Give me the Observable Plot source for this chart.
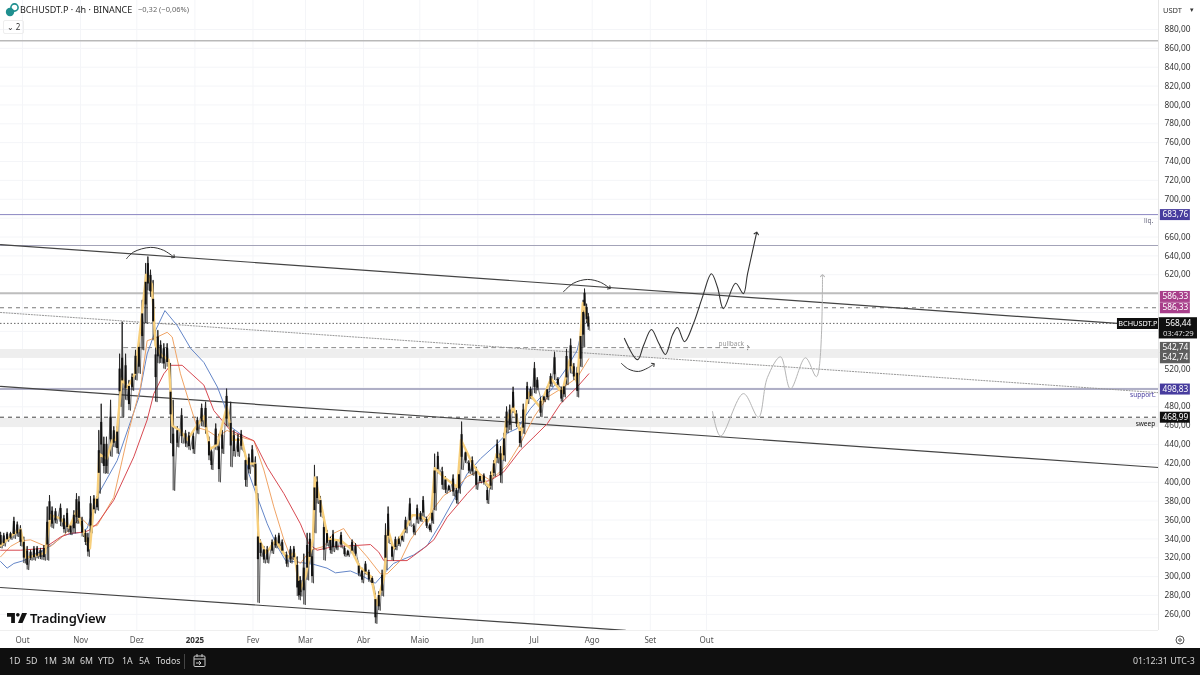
<!DOCTYPE html>
<html>
<head>
<meta charset="utf-8">
<script src="https://cdn.jsdelivr.net/npm/d3@7"></script>
<script src="https://cdn.jsdelivr.net/npm/@observablehq/plot@0.6"></script>
<style>
html,body{margin:0;padding:0;background:#fff;width:1200px;height:675px;overflow:hidden;font-family:"Noto Sans",sans-serif}
#wrap{position:relative;width:1200px;height:648px;filter:blur(0.35px)}
#wrap svg.plot{display:block}
.ov{position:absolute;white-space:nowrap}
#bar{position:absolute;left:0;top:648px;width:1200px;height:27px;background:#0f0f0f;color:#d8d8d8;font-size:8.8px;line-height:26px;filter:blur(0.25px)}
#bar span{position:absolute;top:0}
</style>
</head>
<body>
<div id="wrap"></div>
<div id="bar"></div>
<script>
// Time is expressed as days since 1 Oct 2024
const monthDays=[0,31,61,123,151,182,212,243,273,304,335,365];
const monthLabels=["Out","Nov","Dez","Fev","Mar","Abr","Maio","Jun","Jul","Ago","Set","Out"];
const yearDays=[92];
const yearLabels=["2025"];
const priceTicks=[260,280,300,320,340,360,380,400,420,440,460,480,500,520,540,560,580,600,620,640,660,680,700,720,740,760,780,800,820,840,860,880];
const hiddenTicks=[500,540,560,580,600,680];

const candleDays=[-11.7,-10,-8.2,-6.4,-4.6,-2.8,-1.1,0.7,2.5,4.3,6.1,7.8,9.6,11.4,13.2,14.4,15.8,17.6,20.3,22.1,23.8,25.6,27.4,28.8,30.1,31.8,33.6,34.9,36.3,38.1,39.8,
40.7,42,43.4,44.8,47,48.7,50.5,51.8,53.2,55,56.8,58.5,60.3,62.1,63.9,65.7,66.9,68.3,69.7,71,72.2,73.7,75.4,77.2,79,80.4,82.6,84.9,87,88.8,91.1,93.3,95.6,97.7,99.5,100.8,103.1,104.8,106.6,108.9,111.1,112.8,115,116.7,119,120.8,122.6,124.3,
125.6,127,128.8,130.6,133.2,135,136.8,138.6,140.9,143,144.8,146.6,147.5,
148.3,150.1,151.9,153.3,154.5,155.8,157.2,159,160.8,162.5,164.3,165.7,167.5,170,171.8,173.6,175.9,177.7,179.4,181.2,183,184.8,186.6,188.3,190.1,191.9,193.7,195.1,197.2,199,200.8,202.6,204.4,206.7,208.8,210.6,212.4,213.8,215.6,217.4,218.6,219.9,221.6,224,225.7,227.5,229.8,231.6,232.9,234.3,236.4,238.2,240,242.1,244.1,246.2,248,249.8,251.5,253.3,255.1,256.9,258.3,260,
261.8,263.6,265.4,267.2,269.3,271.1,273.2,274.7,276.4,278.2,280,281.8,283.9,285.7,287.5,288.9,290.3,292.5,294.2,296,297.8,299.2,299.9,301,301.9];
const candleHighs=[347,346,347,347,363,358,354,342,332,328,332,332,330,333,374,386,374,372,377,365,372,356,370,388,385,363,349,346,385,386,385,
455,483,448,448,487,459,459,536,570,536,508,515,540,550,593,632,639,625,614,561,561,550,547,547,526,487,459,478,455,453,453,469,483,485,448,437,462,451,455,499,485,455,451,455,430,430,439,427,
388,339,332,332,339,344,346,339,326,332,332,321,300,
300,324,346,346,328,418,406,385,363,349,342,349,339,347,332,328,339,335,314,309,316,307,300,282,284,307,356,374,335,342,342,344,363,383,356,376,369,385,363,356,370,430,432,416,406,397,408,395,413,464,434,423,427,416,408,409,395,411,423,445,438,452,480,482,
501,476,458,483,506,501,527,511,490,492,501,515,538,511,501,504,541,552,526,522,563,593,605,589,579];
const candleLows=[330,332,337,339,340,342,332,314,307,317,317,319,318,317,317,353,351,356,353,346,347,344,346,356,356,342,333,321,346,367,370,
388,420,409,409,427,437,430,480,469,487,476,497,508,515,540,568,603,596,550,485,526,526,520,522,441,391,437,441,437,434,430,451,459,451,423,413,434,400,430,459,416,427,427,434,395,409,416,388,
272,321,314,314,324,330,332,324,310,314,317,279,275,
279,270,296,314,293,346,377,363,317,332,324,326,328,330,321,321,324,321,300,293,302,294,291,250,264,279,307,335,317,328,332,337,346,353,344,356,358,363,351,347,356,370,409,392,388,390,385,377,388,413,420,409,407,392,399,397,377,392,406,420,399,422,452,455,
473,458,437,451,483,488,494,497,469,485,487,501,508,501,485,490,503,515,508,490,522,543,582,568,561];

const fastDays=[-11.7,-5,-1,2,6,12,15,20,25,29,33,36,38,40,41,45,48,50,53,56,60,63,66,69,71,74,78,80,84,88,93,97,100,104,109,112,117,120,124,126,130,135,141,145,148,151,155,156,160,163,170,175,180,186,189,193,195,198,204,208,212,216,218,220,225,232,234,240,245,249,253,256,258,262,266,270,276,282,288,292,296,299,302];
const fastPrices=[333,345,350,320,322,325,365,362,352,370,345,330,375,385,430,425,445,445,510,500,515,565,620,610,545,535,530,460,455,445,460,470,435,440,480,445,445,420,420,340,325,338,320,325,285,300,340,405,370,340,338,330,310,300,270,300,350,330,350,365,365,358,365,415,405,395,445,420,405,395,430,425,465,480,450,495,480,510,495,530,505,590,570];

const blueDays=[-11.7,-8.2,-4.6,0.7,6,11.4,16.7,22.1,31,34.5,39.8,50.5,62.1,66.5,71,76,82.6,89.7,96.8,104,107.5,111,116.4,120.8,125.2,130.6,136,140.4,148.3,155.4,162.5,167,175,182,188.3,192.8,198,208.8,216,223,230,237.3,244.4,253.3,258.6,264,271,276.4,281.8,290.7,296,298];
const bluePrices=[316,309,314,317,323,328,335,344,347,351,385,423,490,536,561,582,566,542,527,501,483,459,451,409,385,356,332,317,315,313,309,304,306,300,293,303,314,323,333,356,381,409,425,441,452,457,478,490,497,522,540,557];

const amberDays=[-11.7,-6.4,-1,4.3,11.4,15,22.1,31,35.4,39.8,48.7,56.8,63,66.5,71.9,77.2,79.9,84.3,89.7,93.2,98.6,104,109.2,116.4,123.5,128.8,134.1,139.5,143,148.3,153.6,160.8,166.1,171.4,175,178.6,183.9,191,194.6,201.7,207,215.9,224.8,232,237.3,242.6,249.7,258.6,265.7,272.9,280,288.9,296,302.2];
const amberPrices=[321,332,338,339,333,332,344,363,354,354,384,455,501,550,554,559,554,515,480,458,455,448,455,448,444,413,374,339,321,314,328,332,346,351,340,333,321,303,303,317,339,363,386,395,406,411,402,418,441,469,490,501,511,531];

const redDays=[-11.7,-1,11.4,20.3,25.6,32.7,35.4,39.8,48.7,59.4,66.5,70.1,75.4,79,85.2,96.8,102.1,111,123.5,130.6,139.5,148.3,152.7,157.2,166.1,177.7,185.7,190.1,192.8,205.2,214.1,219.5,226.6,237.3,242.6,249.7,256.8,265.7,272.9,280,287,296,302.2];
const redPrices=[328,328,330,342,346,347,349,356,381,427,466,494,515,524,524,503,476,455,444,416,388,356,335,328,332,333,334,326,317,317,330,339,363,388,399,402,411,434,448,462,483,501,515];

const levelPrices=[868,683.76,651,600.5];
const levelColors=["#b9b9b9","#8a86c2","#a3a3b8","#bdbdbd"];
const levelWidths=[1.5,1,1,2];
const supportPrice=498.83;
const dashedPrices=[585,468.99];
const dashedColors=["#777777","#444444"];
const dottedPrice=568.44;
const bandLows=[531.3,458];
const bandHighs=[540.8,467.7];

const trendADays=[-11.74,584.3], trendAPrices=[652,568.4];
const trendBDays=[-11.74,606.2], trendBPrices=[501.6,415.7];
const trendCDays=[-11.74,321.8], trendCPrices=[288.5,243];
const dottedDays=[-11.74,606.2], dottedLinePrices=[580,495];

const arc1Days=[55.5,59.2,68.3,75.2,80.6], arc1Prices=[637,644,649,646,639];
const arc2Days=[288.7,294,301.5,308.4,313.2], arc2Prices=[602,611,615,612,606];
const arc3Days=[319.6,323.4,328.7,333.5,336.7], arc3Prices=[526,520,517.5,521,525];
const waveDays=[321.2,328.2,331.4,335.6,339.4,343.1,346.8,349.5,353.3,358,362.8,367.6,370.9,374,380.5,384.7,386.9,391.7];
const wavePrices=[552.5,530,545,562,548,535.5,556,564,549,568,596,621,606.5,584,611,600,621,664];
const greyWaveDays=[368.2,372.5,384.7,392.7,397.5,404.5,409.8,417.8,423.7,426.9];
const greyWavePrices=[475,449,494,469,511,533,499,532,512,619];
const pullDays=[54,387.4], pullPrices=[542.74,542.74];

const tagPrices=[683.76,597,585,543,532,498.83,468.99];
const tagTexts=["683,76","586,33","586,33","542,74","542,74","498,83","468,99"];
const tagColors=["#473c9e","#a83f8b","#a83f8b","#5e5e5e","#5e5e5e","#473c9e","#0f0f0f"];
const noteDays=[598.5,591,594,371.4];
const notePrices=[677,493,462,547];
const noteTexts=["liq.","support.","sweep","pullback"];
const noteColors=["#6a6a80","#473c9e","#111111","#9a9a9a"];

const fmt=v=>v.toFixed(2).replace(".",",");
const pts=(xs,ys)=>xs.map((x,i)=>({x,y:ys[i]}));
const candles=candleDays.map((d,i)=>{
  const h=candleHighs[i],l=candleLows[i],m=(h+l)/2,half=Math.min((h-l)*0.3,12);
  return {d,h,l,bh:m+half,bl:m-half};
});
const zig=candles.flatMap(c=>[{x:c.d,y:c.h},{x:c.d+0.8,y:c.l}]);
const levels=levelPrices.map((p,i)=>({p,c:levelColors[i],w:levelWidths[i]}));
const dashed=dashedPrices.map((p,i)=>({p,c:dashedColors[i]}));
const bands=bandLows.map((l,i)=>({l,h:bandHighs[i]}));
const tags=tagPrices.map((p,i)=>({p,t:tagTexts[i],c:tagColors[i]}));
const notes=noteDays.map((d,i)=>({d,p:notePrices[i],t:noteTexts[i],c:noteColors[i]}));
const axisFont="'Noto Sans',sans-serif";
const tagLeft=607.2,tagRight=623.2,tagMid=615.2;

const chart=Plot.plot({
  width:1200,height:648,marginTop:0,marginRight:42,marginBottom:18,marginLeft:0,
  style:{fontFamily:axisFont,background:"#fff",color:"#333",overflow:"visible"},
  x:{domain:[-11.74,606.2]},
  y:{domain:[242.9,910.7]},
  marks:[
    Plot.ruleY(priceTicks,{stroke:"#f4f5f8",strokeWidth:1}),
    Plot.ruleX(monthDays.concat(yearDays),{stroke:"#f4f5f8",strokeWidth:1}),
    Plot.rect(bands,{x1:-11.74,x2:606.2,y1:"l",y2:"h",fill:"#eeeeee"}),
    Plot.ruleY(levels,{y:"p",stroke:"c",strokeWidth:"w"}),
    Plot.ruleY([supportPrice],{stroke:"#9696b4",strokeWidth:1.6}),
    Plot.ruleY(dashed,{y:"p",stroke:"c",strokeWidth:1,strokeDasharray:"4,4"}),
    Plot.ruleY([dottedPrice],{stroke:"#666",strokeWidth:1,strokeDasharray:"1.5,2"}),
    Plot.line(pts(pullDays,pullPrices),{x:"x",y:"y",stroke:"#888",strokeWidth:1,strokeDasharray:"4,4",markerEnd:"arrow"}),
    Plot.line(pts(dottedDays,dottedLinePrices),{x:"x",y:"y",stroke:"#999",strokeWidth:1,strokeDasharray:"1.2,1.6"}),
    Plot.line(pts(trendADays,trendAPrices),{x:"x",y:"y",stroke:"#444",strokeWidth:1.2}),
    Plot.line(pts(trendBDays,trendBPrices),{x:"x",y:"y",stroke:"#444",strokeWidth:1.2}),
    Plot.line(pts(trendCDays,trendCPrices),{x:"x",y:"y",stroke:"#444",strokeWidth:1.2}),
    Plot.line(pts(blueDays,bluePrices),{x:"x",y:"y",stroke:"#6486c8",strokeWidth:1}),
    Plot.line(pts(amberDays,amberPrices),{x:"x",y:"y",stroke:"#f0a466",strokeWidth:1}),
    Plot.line(pts(redDays,redPrices),{x:"x",y:"y",stroke:"#d84a52",strokeWidth:1}),
    Plot.line(zig,{x:"x",y:"y",stroke:"#222",strokeWidth:0.6}),
    Plot.ruleX(candles,{x:"d",y1:"l",y2:"h",stroke:"#222",strokeWidth:0.9}),
    Plot.line(pts(fastDays,fastPrices),{x:"x",y:"y",stroke:"#f7cf7c",strokeWidth:2.4}),
    Plot.ruleX(candles,{x:"d",y1:"bl",y2:"bh",stroke:"#111",strokeWidth:2}),
    Plot.line(pts(arc1Days,arc1Prices),{x:"x",y:"y",stroke:"#333",strokeWidth:1,curve:"catmull-rom",markerEnd:"arrow"}),
    Plot.line(pts(arc2Days,arc2Prices),{x:"x",y:"y",stroke:"#333",strokeWidth:1,curve:"catmull-rom",markerEnd:"arrow"}),
    Plot.line(pts(arc3Days,arc3Prices),{x:"x",y:"y",stroke:"#333",strokeWidth:1,curve:"catmull-rom",markerEnd:"arrow"}),
    Plot.line(pts(waveDays,wavePrices),{x:"x",y:"y",stroke:"#333",strokeWidth:1.1,curve:"catmull-rom",markerEnd:"arrow"}),
    Plot.line(pts(greyWaveDays,greyWavePrices),{x:"x",y:"y",stroke:"#b5b5b5",strokeWidth:1,curve:"catmull-rom",markerEnd:"arrow"}),
    Plot.ruleX([606.2],{stroke:"#e6e6e6"}),
    Plot.ruleY([242.9],{stroke:"#efefef"}),
    Plot.axisY(priceTicks.filter(t=>!hiddenTicks.includes(t)),{anchor:"right",tickSize:0,tickPadding:6,fontSize:8.3,tickFormat:fmt,fill:"#333"}),
    Plot.axisX({ticks:monthDays,tickFormat:d=>monthLabels[monthDays.indexOf(d)],tickSize:0,tickPadding:7,fontSize:8,fill:"#555",label:null}),
    Plot.axisX({ticks:yearDays,tickFormat:d=>yearLabels[yearDays.indexOf(d)],tickSize:0,tickPadding:7,fontSize:8,fontWeight:700,fill:"#333",label:null}),
    Plot.text(notes,{x:"d",y:"p",text:"t",fill:"c",fontSize:6.5,textAnchor:"start"}),
    Plot.ruleY(tags,{y:"p",x1:tagLeft,x2:tagRight,stroke:"c",strokeWidth:11}),
    Plot.text(tags,{x:tagMid,y:"p",text:"t",fill:"#fff",fontSize:8.3}),
    Plot.ruleY([dottedPrice],{x1:584.3,x2:606.2,stroke:"#0f0f0f",strokeWidth:11}),
    Plot.text(["BCHUSDT.P"],{x:595.2,y:dottedPrice,text:d=>d,fill:"#fff",fontSize:7.3}),
    Plot.rect([dottedPrice],{x1:606.6,x2:627,y1:dottedPrice+6,y2:dottedPrice-16.5,fill:"#0f0f0f"}),
    Plot.text([dottedPrice],{x:616.8,y:dottedPrice,text:fmt,fill:"#fff",fontSize:8.3}),
    Plot.text(["03:47:29"],{x:616.8,y:dottedPrice-10.5,text:d=>d,fill:"#ddd",fontSize:7.8})
  ]
});
document.getElementById("wrap").appendChild(chart);

const wrap=document.getElementById("wrap");
wrap.insertAdjacentHTML("beforeend",`
<svg class="ov" style="left:5px;top:3px" width="14" height="14" viewBox="0 0 14 14"><circle cx="5" cy="9" r="4.2" fill="#1f8f8f"/><circle cx="9.5" cy="4.5" r="3.6" fill="none" stroke="#1f8f8f" stroke-width="1.6"/></svg>
<div class="ov" style="left:20px;top:2px;font-size:9px;line-height:15px;color:#222">BCHUSDT.P · 4h · BINANCE</div>
<div class="ov" style="left:138px;top:3px;font-size:7.5px;line-height:13px;color:#666">−0,32 (−0,06%)</div>
<div class="ov" style="left:3px;top:20px;width:19px;height:12px;border:1px solid #eee;border-radius:2px;font-size:8px;line-height:12px;color:#333;text-align:center">⌄ 2</div>
<div class="ov" style="left:1163px;top:4px;font-size:7.5px;line-height:12px;color:#333">USDT</div>
<div class="ov" style="left:1190px;top:4px;font-size:7px;line-height:12px;color:#333">▾</div>
<svg class="ov" style="left:7px;top:612px" width="20" height="12" viewBox="0 0 24 12"><path d="M0 0h9.5v12H5V4.5H0z" fill="#131313"/><circle cx="13" cy="2.2" r="2.2" fill="#131313"/><path d="M18 0h6l-5.4 12h-5.4z" fill="#131313"/></svg>
<div class="ov" style="left:30px;top:609px;font-size:13px;line-height:18px;font-weight:600;color:#131313;letter-spacing:-0.2px">TradingView</div>
<svg class="ov" style="left:1174px;top:634px" width="12" height="12" viewBox="0 0 12 12"><circle cx="6" cy="6" r="4" fill="none" stroke="#555" stroke-width="1"/><circle cx="6" cy="6" r="1.3" fill="none" stroke="#555" stroke-width="1"/></svg>
`);
const rangeLabels=["1D","5D","1M","3M","6M","YTD","1A","5A","Todos"];
const rangeLefts=[9,26,44,62,80,98,122,139,156];
const bar=document.getElementById("bar");
rangeLabels.forEach((t,i)=>{const s=document.createElement("span");s.textContent=t;s.style.left=rangeLefts[i]+"px";bar.appendChild(s);});
bar.insertAdjacentHTML("beforeend",`
<svg style="position:absolute;left:184px;top:0" width="1" height="27"><rect y="6" width="1" height="15" fill="#444"/></svg>
<svg style="position:absolute;left:193px;top:6px" width="13" height="14" viewBox="0 0 13 14" fill="none" stroke="#ccc"><rect x="1" y="2" width="11" height="10.5" rx="1"/><path d="M1 5h11M4 0v3M9 0v3M3 9h5M6 7l2 2-2 2"/></svg>
<span style="left:1133px">01:12:31 UTC-3</span>`);
</script>
</body>
</html>
